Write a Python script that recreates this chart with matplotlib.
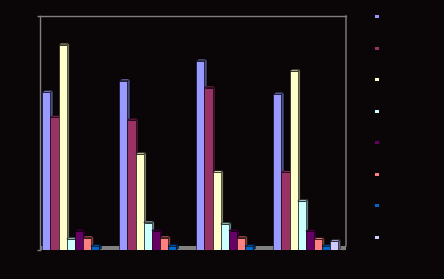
import matplotlib
matplotlib.use("Agg")
import matplotlib.pyplot as plt
from matplotlib.patches import Polygon, Rectangle
import matplotlib.colors as mcolors
import numpy as np

categories = ["1", "2", "3", "4"]
series_names = ["Series 1", "Series 2", "Series 3", "Series 4",
                "Series 5", "Series 6", "Series 7", "Series 8"]
s1 = [67.5, 72.4, 80.9, 66.7]
s2 = [56.8, 55.6, 69.4, 33.2]
s3 = [87.7, 41.0, 33.2, 76.5]
s4 = [4.7, 11.7, 11.1, 20.9]
s5 = [8.2, 8.2, 8.2, 8.1]
s6 = [5.3, 5.3, 5.3, 4.6]
s7 = [1.7, 1.7, 1.7, 1.7]
s8 = [0.0, 0.0, 0.0, 3.8]
series = [s1, s2, s3, s4, s5, s6, s7, s8]
colors = ["#9999FF", "#993366", "#FFFFCC", "#CCFFFF",
          "#660066", "#FF8080", "#0066CC", "#CCCCFF"]

BG = "#0a0507"
GRAY = "#808080"

fig = plt.figure(figsize=(4.44, 2.79), dpi=100, facecolor=BG)
ax = fig.add_axes([40/444, (279-250)/279, 306/444, 234/279], facecolor=BG)

w = 0.105
dx = 2.5/77
dy = 1.5*100/234
ax.set_xlim(-0.451, 3.523)
ax.set_ylim(0, 100)

# floor
ax.add_patch(Rectangle((-0.451, 0.2), 3.974, 1.4, facecolor=GRAY, edgecolor='none', zorder=1))

z = 2
for i in range(len(categories)):
    for j, (vals, c) in enumerate(zip(series, colors)):
        v = vals[i]
        if v <= 0:
            continue
        x0 = i + (j - 3.5) * w - w/2
        rgb = np.array(mcolors.to_rgb(c))
        side = tuple(rgb * 0.5)
        top = tuple(np.clip(rgb * 0.85, 0, 1))
        ax.add_patch(Polygon([(x0 + w, 0), (x0 + w + dx, dy), (x0 + w + dx, v + dy), (x0 + w, v)],
                             closed=True, facecolor=side, edgecolor='#000000', lw=0.3, zorder=z))
        ax.add_patch(Polygon([(x0, v), (x0 + dx, v + dy), (x0 + w + dx, v + dy), (x0 + w, v)],
                             closed=True, facecolor=top, edgecolor='#000000', lw=0.3, zorder=z))
        ax.bar(x0 + w/2, v, width=w, color=c, edgecolor='#000000', lw=0.4, zorder=z + 1)
        z += 2

for s in ["left", "top"]:
    ax.spines[s].set_color(GRAY)
    ax.spines[s].set_linewidth(1.0)
ax.spines["bottom"].set_visible(False)
ax.spines["right"].set_visible(False)
# right wall edge ending with a short slanted corner
ax.plot([3.523, 3.523, 3.523 - 3/77], [100, 1.7, 0.2], color=GRAY, lw=1.0,
        clip_on=False, zorder=z + 2)
ax.set_xticks([])
ax.set_yticks([0, 100])
ax.set_yticklabels([])
ax.tick_params(axis='y', colors=GRAY, length=2, width=1)

# legend markers
ys = [16.3, 47.8, 79.3, 110.7, 142.2, 173.7, 205.2, 236.7]
for yv, c in zip(ys, colors):
    fig.add_artist(Rectangle((375/444, (279 - yv - 2)/279), 4/444, 3/279,
                             facecolor=c, edgecolor='none', transform=fig.transFigure))

fig.savefig("out.png", dpi=100, facecolor=BG)
